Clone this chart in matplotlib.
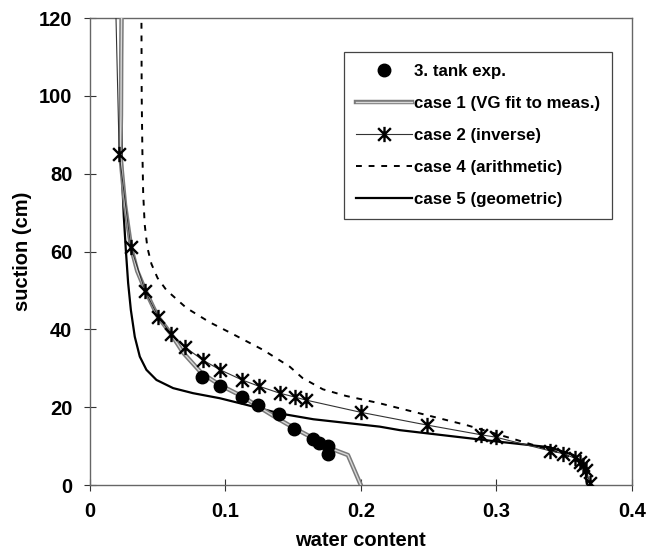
import matplotlib
matplotlib.use("Agg")
import matplotlib.pyplot as plt
import matplotlib.patheffects as pe
from matplotlib.path import Path

plt.rcParams['font.family'] = ['Liberation Sans', 'DejaVu Sans']
plt.rcParams['font.weight'] = 'bold'

# measured points (3. tank exp.)
tank_wc = [0.083, 0.096, 0.112, 0.124, 0.140, 0.151, 0.165, 0.169, 0.176, 0.176]
tank_s = [27.8, 25.4, 22.6, 20.6, 18.3, 14.4, 11.8, 10.8, 10.0, 8.0]

# case 1 (VG fit to meas.)
c1_wc = [0.0235, 0.0232, 0.0230, 0.0225, 0.026, 0.0305, 0.035, 0.041, 0.050, 0.060,
         0.0689, 0.0824, 0.096, 0.113, 0.1245, 0.140, 0.151, 0.165, 0.177, 0.1905, 0.200]
c1_s = [122, 110, 95, 85, 72, 61, 55, 50, 43.4, 38.8,
        34.0, 28.8, 25.7, 22.7, 20.1, 16.8, 14.6, 12.0, 9.5, 7.7, 0.0]

# case 2 (inverse)
c2_wc = [0.019, 0.0217, 0.0303, 0.0408, 0.0504, 0.0598, 0.0704, 0.0834, 0.0962, 0.1124,
         0.1247, 0.1402, 0.1513, 0.1599, 0.1998, 0.249, 0.289, 0.2996, 0.3395, 0.349,
         0.358, 0.3616, 0.364, 0.3665, 0.369]
c2_s = [125, 85.1, 61.1, 49.9, 43.3, 38.9, 35.4, 32.1, 29.6, 27.0,
        25.4, 23.6, 22.6, 21.8, 18.7, 15.4, 12.9, 12.3, 8.8, 8.1,
        6.9, 6.0, 5.1, 3.9, 0.4]

# case 4 (arithmetic)
c4_wc = [0.0381, 0.0383, 0.0388, 0.0394, 0.0405, 0.0425, 0.0455, 0.050, 0.0565, 0.0713,
         0.0886, 0.1033, 0.128, 0.1476, 0.157, 0.172, 0.189, 0.214, 0.2288, 0.278,
         0.3149, 0.332, 0.350, 0.360, 0.365, 0.367]
c4_s = [122, 100, 86, 75, 67, 61, 56.8, 53.2, 50.1, 45.5,
        41.8, 39.2, 34.7, 30.4, 27.5, 24.6, 22.9, 21.0, 19.7, 15.4,
        11.6, 9.8, 8.0, 6.2, 4.5, 0.0]

# case 5 (geometric)
c5_wc = [0.0234, 0.0234, 0.0236, 0.0240, 0.0251, 0.0266, 0.0283, 0.0303, 0.0332, 0.0369,
         0.0418, 0.0492, 0.0615, 0.0762, 0.096, 0.1156, 0.140, 0.165, 0.214, 0.2288,
         0.3026, 0.3395, 0.357, 0.3653, 0.367]
c5_s = [122, 100, 86, 77.6, 69, 60.4, 51.9, 45, 38.1, 33.0,
        29.6, 27.0, 24.9, 23.6, 22.3, 20.6, 18.4, 16.9, 15.0, 14.1,
        11.1, 9.7, 7.7, 5.1, 0.0]

xticks = [0, 0.1, 0.2, 0.3, 0.4]
yticks = [0, 20, 40, 60, 80, 100, 120]

# asterisk marker: X with a vertical bar
star = Path([(-1, -1), (1, 1), (-1, 1), (1, -1), (0, -1.2), (0, 1.2)],
            [Path.MOVETO, Path.LINETO, Path.MOVETO, Path.LINETO, Path.MOVETO, Path.LINETO])

fig = plt.figure(figsize=(6.46, 5.54), dpi=100)
ax = fig.add_axes([0.139, 0.1245, 0.839, 0.843])

ax.plot(tank_wc, tank_s, 'o', color='black', markersize=9, label='3. tank exp.', zorder=5)
ax.plot(c1_wc, c1_s, color='#d8d8d8', lw=1.0, label='case 1 (VG fit to meas.)',
        path_effects=[pe.Stroke(linewidth=3.2, foreground='#7a7a7a'), pe.Normal()], zorder=3)
ax.plot(c2_wc, c2_s, color='#333333', lw=0.8, marker=star, markersize=11,
        markeredgewidth=1.7, markeredgecolor='black', label='case 2 (inverse)', zorder=4)
ax.plot(c4_wc, c4_s, color='black', lw=1.4, dashes=(3, 3.5), label='case 4 (arithmetic)', zorder=2)
ax.plot(c5_wc, c5_s, color='black', lw=1.6, label='case 5 (geometric)', zorder=2)

ax.set_xlim(0, 0.4)
ax.set_ylim(0, 120)
ax.set_xticks(xticks)
ax.set_xticklabels(['0', '0.1', '0.2', '0.3', '0.4'])
ax.set_yticks(yticks)
ax.tick_params(direction='inout', length=9, width=0.8, labelsize=14.5, color='#333333', pad=8)
for s in ax.spines.values():
    s.set_color('#666666')
    s.set_linewidth(1.0)

ax.set_xlabel('water content', fontsize=14.5, fontweight='bold', labelpad=7)
ax.set_ylabel('suction (cm)', fontsize=14.5, fontweight='bold', labelpad=5)

leg = ax.legend(loc='upper right', bbox_to_anchor=(0.963, 0.927), fontsize=12.2,
                frameon=True, fancybox=False, edgecolor='#444444', framealpha=1,
                handlelength=3.3, handletextpad=0.1, labelspacing=1.0, borderpad=0.7,
                borderaxespad=0)
leg.get_frame().set_linewidth(0.9)

fig.savefig('out.png', dpi=100)
